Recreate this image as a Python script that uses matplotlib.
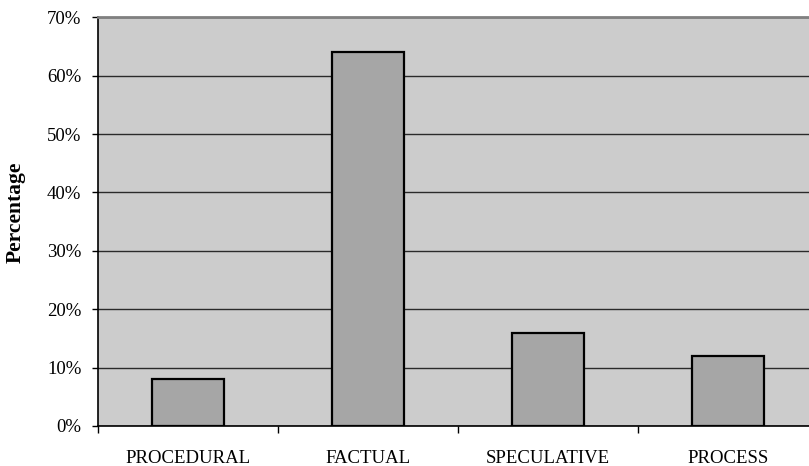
import numpy as np
import matplotlib.pyplot as plt
from matplotlib.ticker import FixedLocator, FuncFormatter

categories = ['PROCEDURAL', 'FACTUAL', 'SPECULATIVE', 'PROCESS']
percentages = [8, 64, 16, 12]

plt.rcParams['font.family'] = ['Liberation Serif', 'DejaVu Serif']

fig = plt.figure(figsize=(8.09, 4.66), dpi=100)
ax = fig.add_axes([98 / 809, 40 / 466, 720 / 809, 408.7 / 466])
ax.set_facecolor('#cccccc')

x = np.arange(len(categories))
ax.bar(x, percentages, width=0.4, color='#a6a6a6', edgecolor='black',
       linewidth=1.6, zorder=3)

ax.set_xlim(-0.5, len(categories) - 0.5)
ax.set_ylim(0, 70)
ax.set_yticks(np.arange(0, 71, 10))
ax.yaxis.set_major_formatter(FuncFormatter(lambda v, p: f'{v:.0f}%'))
ax.yaxis.grid(True, color='#2a2a2a', linewidth=1.0, zorder=1)

# category labels at centers, tick marks at the boundaries
ax.xaxis.set_major_locator(FixedLocator(np.arange(-0.5, len(categories), 1.0)))
ax.xaxis.set_major_formatter(FuncFormatter(lambda v, p: ''))
ax.xaxis.set_minor_locator(FixedLocator(x))
ax.set_xticklabels(categories, minor=True)
ax.tick_params(axis='x', which='major', length=5, width=1, color='black')
ax.tick_params(axis='x', which='minor', length=0, pad=17, labelsize=13.5)
ax.tick_params(axis='y', length=4, width=1, pad=8, labelsize=13.5)

for side in ['left', 'bottom']:
    ax.spines[side].set_color('black')
    ax.spines[side].set_linewidth(1.2)
ax.spines['top'].set_color('#808080')
ax.spines['top'].set_linewidth(2)
ax.spines['right'].set_visible(False)

ax.set_ylabel('Percentage', fontsize=15.5, fontweight='bold')
ax.yaxis.set_label_coords(-72 / 720, 0.524)

fig.savefig('out.png', dpi=100)
